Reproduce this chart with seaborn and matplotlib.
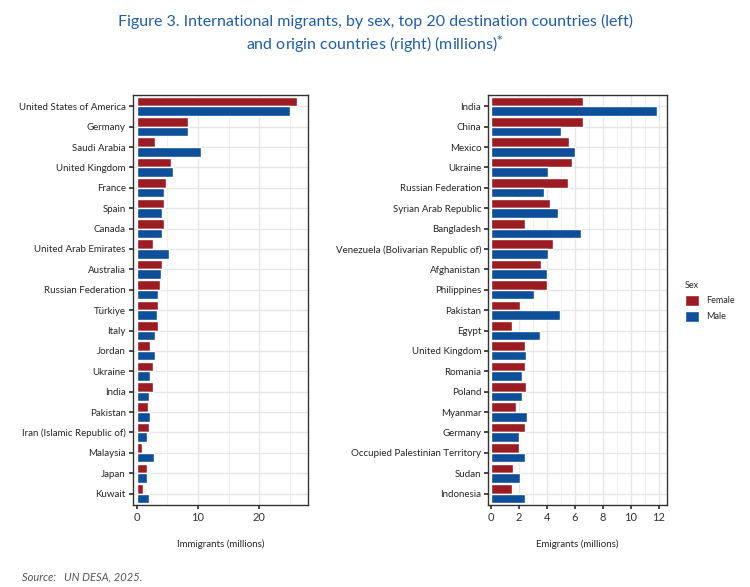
import pandas as pd
import matplotlib.pyplot as plt
import seaborn as sns
from matplotlib.ticker import MultipleLocator
from matplotlib.patches import Patch

sns.set_theme(style="whitegrid")
plt.rcParams['font.family'] = ['Lato', 'DejaVu Sans']

dest_countries = ["United States of America", "Germany", "Saudi Arabia", "United Kingdom", "France",
                  "Spain", "Canada", "United Arab Emirates", "Australia", "Russian Federation",
                  "Türkiye", "Italy", "Jordan", "Ukraine", "India", "Pakistan",
                  "Iran (Islamic Republic of)", "Malaysia", "Japan", "Kuwait"]
dest_female = [26.1, 8.3, 3.0, 5.6, 4.7, 4.4, 4.4, 2.7, 4.2, 3.8,
               3.4, 3.4, 2.2, 2.7, 2.7, 1.9, 2.0, 0.8, 1.6, 1.1]
dest_male = [25.0, 8.3, 10.5, 5.9, 4.4, 4.2, 4.2, 5.2, 3.9, 3.4,
             3.3, 3.0, 3.0, 2.2, 2.0, 2.2, 1.7, 2.8, 1.7, 2.0]

orig_countries = ["India", "China", "Mexico", "Ukraine", "Russian Federation", "Syrian Arab Republic",
                  "Bangladesh", "Venezuela (Bolivarian Republic of)", "Afghanistan", "Philippines",
                  "Pakistan", "Egypt", "United Kingdom", "Romania", "Poland", "Myanmar", "Germany",
                  "Occupied Palestinian Territory", "Sudan", "Indonesia"]
orig_female = [6.6, 6.6, 5.6, 5.8, 5.5, 4.2, 2.4, 4.4, 3.6, 4.0,
               2.1, 1.5, 2.4, 2.4, 2.5, 1.8, 2.4, 2.0, 1.6, 1.5]
orig_male = [11.9, 5.0, 6.0, 4.1, 3.8, 4.8, 6.4, 4.1, 4.0, 3.1,
             4.9, 3.5, 2.5, 2.2, 2.2, 2.6, 2.0, 2.4, 2.1, 2.4]

palette = {"Female": "#9b1c22", "Male": "#0d4f98"}


def long_df(countries, female, male):
    df = pd.DataFrame({"Country": countries, "Female": female, "Male": male})
    return df.melt(id_vars="Country", var_name="Sex", value_name="Value")


fig = plt.figure(figsize=(7.5, 5.87), dpi=100)
ax1 = fig.add_axes([0.177, 0.14, 0.234, 0.698])
ax2 = fig.add_axes([0.651, 0.14, 0.238, 0.698])

panels = [(ax1, long_df(dest_countries, dest_female, dest_male), "Immigrants (millions)", (-0.65, 28.0), 10, 5),
          (ax2, long_df(orig_countries, orig_female, orig_male), "Emigrants (millions)", (-0.2, 12.57), 2, 1)]

for ax, df, xlabel, xlim, major, minor in panels:
    sns.barplot(data=df, y="Country", x="Value", hue="Sex", palette=palette,
                orient="h", width=0.94, gap=0, saturation=1, legend=False, ax=ax)
    ax.set_xlim(*xlim)
    ax.set_ylim(19.55, -0.55)
    ax.xaxis.set_major_locator(MultipleLocator(major))
    ax.xaxis.set_minor_locator(MultipleLocator(minor))
    ax.grid(True, which="major", color="#e6e6e6", linewidth=1.0)
    ax.grid(True, which="minor", axis="x", color="#eeeeee", linewidth=0.6)
    ax.set_axisbelow(True)
    ax.set_ylabel("")
    ax.set_xlabel(xlabel, fontsize=7, labelpad=12)
    ax.tick_params(axis="y", labelsize=7, length=3, pad=2, color="#333333", left=True)
    ax.tick_params(axis="x", labelsize=8, length=3, pad=2, color="#333333", bottom=True,
                   labelcolor="#333333")
    for s in ax.spines.values():
        s.set_color("#333333")
        s.set_linewidth(1.0)

handles = [Patch(facecolor=palette["Female"], label="Female"),
           Patch(facecolor=palette["Male"], label="Male")]
fig.legend(handles=handles, title="Sex", loc="upper left", bbox_to_anchor=(0.902, 0.535),
           frameon=False, fontsize=6.5, title_fontsize=6.5, handlelength=1.6, handleheight=1.6,
           alignment="left")

fig.text(0.5, 0.955, "Figure 3. International migrants, by sex, top 20 destination countries (left)",
         ha="center", color="#1f5ea8", fontsize=11.5)
fig.text(0.5, 0.915, "and origin countries (right) (millions)$^{*}$", ha="center",
         color="#1f5ea8", fontsize=11.5)
fig.text(0.03, 0.012, "Source:   UN DESA, 2025.", ha="left", color="#555555", fontsize=8,
         style="italic")

fig.savefig("out.png", dpi=100)
